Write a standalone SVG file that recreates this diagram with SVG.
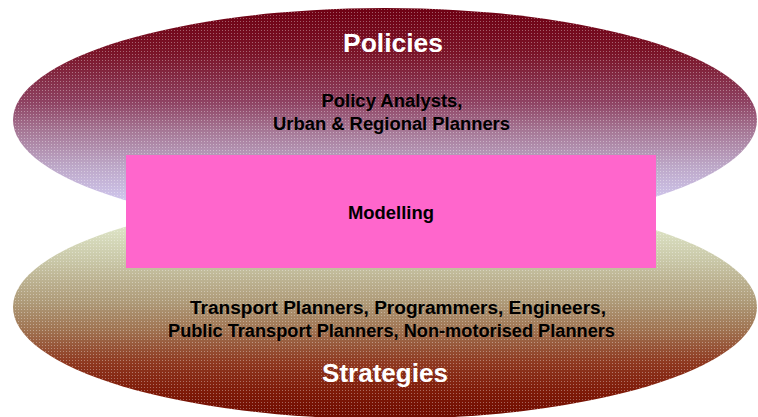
<svg xmlns="http://www.w3.org/2000/svg" width="758" height="417" viewBox="0 0 758 417">
  <defs>
    <linearGradient id="gTop" x1="0" y1="0" x2="0" y2="1">
      <stop offset="0" stop-color="#6E0012"/>
      <stop offset="0.2" stop-color="#7A1428"/>
      <stop offset="0.42" stop-color="#8E4262"/>
      <stop offset="0.55" stop-color="#A67896"/>
      <stop offset="0.7" stop-color="#BCA6C6"/>
      <stop offset="0.85" stop-color="#CEC4EA"/>
      <stop offset="1" stop-color="#E0E2FA"/>
    </linearGradient>
    <linearGradient id="gBot" x1="0" y1="0" x2="0" y2="1">
      <stop offset="0" stop-color="#F0F6E0"/>
      <stop offset="0.15" stop-color="#DCE2C4"/>
      <stop offset="0.3" stop-color="#C8C6A6"/>
      <stop offset="0.48" stop-color="#AE9A78"/>
      <stop offset="0.6" stop-color="#A07452"/>
      <stop offset="0.75" stop-color="#8E3820"/>
      <stop offset="0.88" stop-color="#7E1A08"/>
      <stop offset="1" stop-color="#6E0A00"/>
    </linearGradient>
    <pattern id="dots" width="3" height="3" patternUnits="userSpaceOnUse">
      <rect x="0" y="0" width="1" height="1" fill="#ffffff" fill-opacity="0.35"/>
    </pattern>
  </defs>
  <style>
    .big { font-family: "Liberation Sans", Arial, sans-serif; font-weight: bold; font-size: 26px; fill: #ffffff; text-anchor: middle; }
    .lbl { font-family: "Liberation Sans", Arial, sans-serif; font-weight: bold; font-size: 18px; fill: #000000; text-anchor: middle; }
  </style>
  <g id="strategies">
    <ellipse cx="385" cy="307" rx="372" ry="112" fill="url(#gBot)"/>
    <ellipse cx="385" cy="307" rx="372" ry="112" fill="url(#dots)"/>
    <text class="lbl" x="398" y="314" textLength="416" lengthAdjust="spacingAndGlyphs">Transport Planners, Programmers, Engineers,</text>
    <text class="lbl" x="391.5" y="337" textLength="447" lengthAdjust="spacingAndGlyphs">Public Transport Planners, Non-motorised Planners</text>
    <text class="big" x="385" y="382" textLength="126" lengthAdjust="spacingAndGlyphs">Strategies</text>
  </g>
  <g id="policies">
    <ellipse cx="385" cy="120" rx="372" ry="112" fill="url(#gTop)"/>
    <ellipse cx="385" cy="120" rx="372" ry="112" fill="url(#dots)"/>
    <text class="big" x="393" y="52" textLength="100" lengthAdjust="spacingAndGlyphs">Policies</text>
    <text class="lbl" x="392" y="107" textLength="141" lengthAdjust="spacingAndGlyphs">Policy Analysts,</text>
    <text class="lbl" x="391.5" y="130" textLength="237" lengthAdjust="spacingAndGlyphs">Urban &amp; Regional Planners</text>
  </g>
  <g id="modelling">
    <rect x="126" y="155" width="530" height="113" fill="#FF66CC"/>
    <text class="lbl" x="391" y="219" textLength="86" lengthAdjust="spacingAndGlyphs">Modelling</text>
  </g>
  <g id="connectors"/>
</svg>
